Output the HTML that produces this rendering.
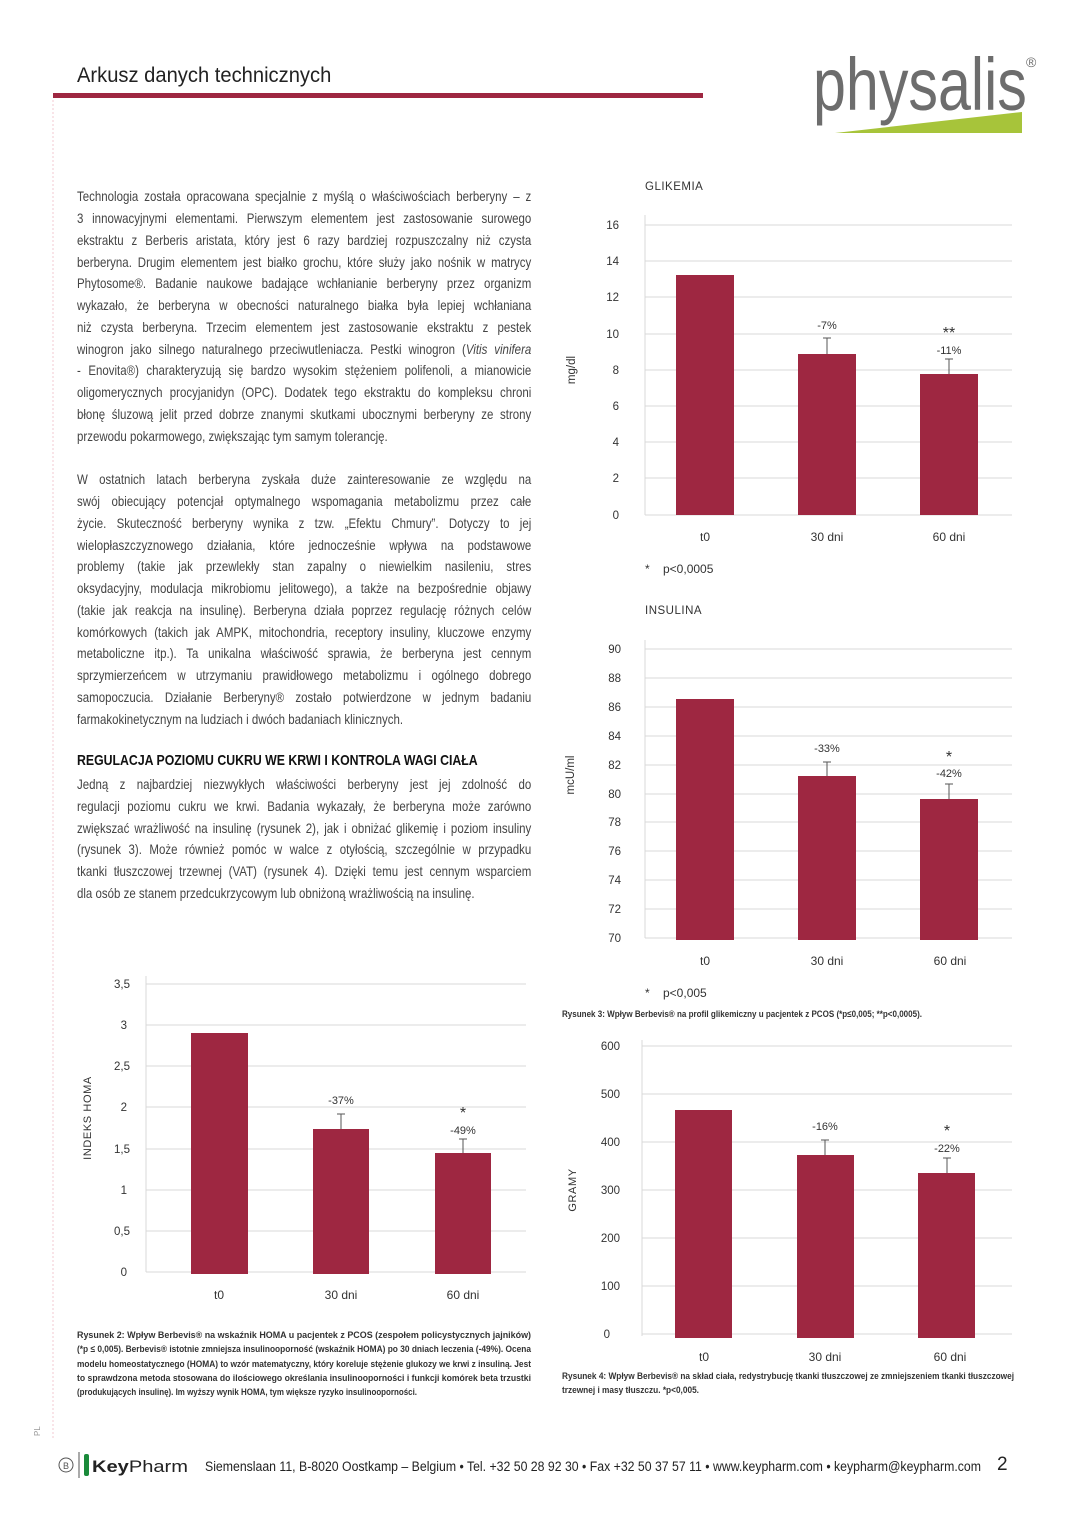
<!DOCTYPE html>
<html><head><meta charset="utf-8"><style>
body{margin:0;background:#fff;}
#p{position:relative;width:1080px;height:1527px;overflow:hidden;font-family:"Liberation Sans",sans-serif;}
.l{position:absolute;left:77px;width:554px;height:20px;font-size:14px;line-height:20px;color:#444;transform:scaleX(0.82);transform-origin:0 0;text-align:justify;text-align-last:justify;white-space:nowrap;overflow:visible}
.l.e{text-align-last:left}
svg{position:absolute;left:0;top:0}
</style></head><body><div id="p">
<svg width="1080" height="1527" font-family="Liberation Sans, sans-serif">
<line x1="53" y1="100" x2="53" y2="1440" stroke="#f3c9d2" stroke-dasharray="2,2"/>
<text x="77" y="82" font-size="21" fill="#222" transform="translate(77 0) scale(0.96 1) translate(-77 0)">Arkusz danych technicznych</text>
<rect x="53" y="93" width="650" height="5" fill="#9e2741"/>
<polygon points="835,133 1022,112 1022,133" fill="#a7c43a"/>
<text x="813" y="110" font-size="74" fill="#6d6d6d" transform="translate(813 0) scale(0.8 1) translate(-813 0)">physalis</text>
<text x="1026" y="67" font-size="14" fill="#6d6d6d">®</text>
<g font-size="11.5" fill="#333" letter-spacing="0.5">
<text x="645" y="190">GLIKEMIA</text>
<text x="645" y="614">INSULINA</text>
</g>
<!-- chart 1 -->
<g stroke="#d9d9d9"><line x1="645" y1="225" x2="1012" y2="225"/><line x1="645" y1="261" x2="1012" y2="261"/><line x1="645" y1="297" x2="1012" y2="297"/><line x1="645" y1="334" x2="1012" y2="334"/><line x1="645" y1="370" x2="1012" y2="370"/><line x1="645" y1="406" x2="1012" y2="406"/><line x1="645" y1="442" x2="1012" y2="442"/><line x1="645" y1="478" x2="1012" y2="478"/><line x1="645" y1="515" x2="1012" y2="515"/><line x1="645" y1="215" x2="645" y2="515"/></g>
<g font-size="11.5" fill="#333" text-anchor="end"><text x="619" y="229">16</text><text x="619" y="265">14</text><text x="619" y="301">12</text><text x="619" y="338">10</text><text x="619" y="374">8</text><text x="619" y="410">6</text><text x="619" y="446">4</text><text x="619" y="482">2</text><text x="619" y="519">0</text></g>
<g fill="#9e2741"><rect x="676" y="275" width="58" height="240"/><rect x="798" y="354" width="58" height="161"/><rect x="920" y="374" width="58" height="141"/></g>
<g stroke="#555"><line x1="827" y1="354" x2="827" y2="338"/><line x1="823" y1="338" x2="831" y2="338"/><line x1="949" y1="374" x2="949" y2="359"/><line x1="945" y1="359" x2="953" y2="359"/></g>
<g font-size="11" fill="#333" text-anchor="middle"><text x="827" y="329">-7%</text><text x="949" y="354">-11%</text><text x="949" y="338" font-size="16">**</text>
<text x="705" y="541" font-size="12">t0</text><text x="827" y="541" font-size="12">30 dni</text><text x="949" y="541" font-size="12">60 dni</text></g>
<text x="575" y="370" font-size="11.5" fill="#333" text-anchor="middle" transform="rotate(-90 575 370)">mg/dl</text>
<text x="645" y="573" font-size="12" fill="#333">*</text><text x="663" y="573" font-size="12" fill="#333">p&lt;0,0005</text>
<!-- chart 2 -->
<g stroke="#d9d9d9"><line x1="645" y1="649" x2="1012" y2="649"/><line x1="645" y1="678" x2="1012" y2="678"/><line x1="645" y1="707" x2="1012" y2="707"/><line x1="645" y1="736" x2="1012" y2="736"/><line x1="645" y1="765" x2="1012" y2="765"/><line x1="645" y1="794" x2="1012" y2="794"/><line x1="645" y1="822" x2="1012" y2="822"/><line x1="645" y1="851" x2="1012" y2="851"/><line x1="645" y1="880" x2="1012" y2="880"/><line x1="645" y1="909" x2="1012" y2="909"/><line x1="645" y1="938" x2="1012" y2="938"/><line x1="645" y1="640" x2="645" y2="938"/></g>
<g font-size="11.5" fill="#333" text-anchor="end"><text x="621" y="653">90</text><text x="621" y="682">88</text><text x="621" y="711">86</text><text x="621" y="740">84</text><text x="621" y="769">82</text><text x="621" y="798">80</text><text x="621" y="826">78</text><text x="621" y="855">76</text><text x="621" y="884">74</text><text x="621" y="913">72</text><text x="621" y="942">70</text></g>
<g fill="#9e2741"><rect x="676" y="699" width="58" height="241"/><rect x="798" y="776" width="58" height="164"/><rect x="920" y="799" width="58" height="141"/></g>
<g stroke="#555"><line x1="827" y1="776" x2="827" y2="762"/><line x1="823" y1="762" x2="831" y2="762"/><line x1="949" y1="799" x2="949" y2="784"/><line x1="945" y1="784" x2="953" y2="784"/></g>
<g font-size="11" fill="#333" text-anchor="middle"><text x="827" y="752">-33%</text><text x="949" y="777">-42%</text><text x="949" y="762" font-size="16">*</text>
<text x="705" y="965" font-size="12">t0</text><text x="827" y="965" font-size="12">30 dni</text><text x="950" y="965" font-size="12">60 dni</text></g>
<text x="574" y="775" font-size="11.5" fill="#333" text-anchor="middle" transform="rotate(-90 574 775)">mcU/ml</text>
<text x="645" y="997" font-size="12" fill="#333">*</text><text x="663" y="997" font-size="12" fill="#333">p&lt;0,005</text>
<text x="562" y="1017" font-size="9.5" font-weight="bold" fill="#333" textLength="360" lengthAdjust="spacingAndGlyphs">Rysunek 3: Wpływ Berbevis® na profil glikemiczny u pacjentek z PCOS (*p≤0,005; **p&lt;0,0005).</text>
<!-- chart 3 -->
<g stroke="#d9d9d9"><line x1="146" y1="984" x2="526" y2="984"/><line x1="146" y1="1025" x2="526" y2="1025"/><line x1="146" y1="1066" x2="526" y2="1066"/><line x1="146" y1="1107" x2="526" y2="1107"/><line x1="146" y1="1149" x2="526" y2="1149"/><line x1="146" y1="1190" x2="526" y2="1190"/><line x1="146" y1="1231" x2="526" y2="1231"/><line x1="146" y1="1272" x2="526" y2="1272"/><line x1="146" y1="976" x2="146" y2="1272"/></g>
<g font-size="11.5" fill="#333" text-anchor="end"><text x="130" y="988">3,5</text><text x="127" y="1029">3</text><text x="130" y="1070">2,5</text><text x="127" y="1111">2</text><text x="130" y="1153">1,5</text><text x="127" y="1194">1</text><text x="130" y="1235">0,5</text><text x="127" y="1276">0</text></g>
<g fill="#9e2741"><rect x="191" y="1033" width="57" height="241"/><rect x="313" y="1129" width="56" height="145"/><rect x="435" y="1153" width="56" height="121"/></g>
<g stroke="#555"><line x1="341" y1="1129" x2="341" y2="1114"/><line x1="337" y1="1114" x2="345" y2="1114"/><line x1="463" y1="1153" x2="463" y2="1139"/><line x1="459" y1="1139" x2="467" y2="1139"/></g>
<g font-size="11" fill="#333" text-anchor="middle"><text x="341" y="1104">-37%</text><text x="463" y="1134">-49%</text><text x="463" y="1118" font-size="16">*</text>
<text x="219" y="1299" font-size="12">t0</text><text x="341" y="1299" font-size="12">30 dni</text><text x="463" y="1299" font-size="12">60 dni</text></g>
<text x="91" y="1118" font-size="11" fill="#333" letter-spacing="0.6" text-anchor="middle" transform="rotate(-90 91 1118)">INDEKS HOMA</text>
<!-- chart 4 -->
<g stroke="#d9d9d9"><line x1="642" y1="1046" x2="1012" y2="1046"/><line x1="642" y1="1094" x2="1012" y2="1094"/><line x1="642" y1="1142" x2="1012" y2="1142"/><line x1="642" y1="1190" x2="1012" y2="1190"/><line x1="642" y1="1238" x2="1012" y2="1238"/><line x1="642" y1="1286" x2="1012" y2="1286"/><line x1="642" y1="1334" x2="1012" y2="1334"/><line x1="642" y1="1040" x2="642" y2="1336"/></g>
<g font-size="11.5" fill="#333" text-anchor="end"><text x="620" y="1050">600</text><text x="620" y="1098">500</text><text x="620" y="1146">400</text><text x="620" y="1194">300</text><text x="620" y="1242">200</text><text x="620" y="1290">100</text><text x="610" y="1338">0</text></g>
<g fill="#9e2741"><rect x="675" y="1110" width="57" height="228"/><rect x="797" y="1155" width="57" height="183"/><rect x="918" y="1173" width="57" height="165"/></g>
<g stroke="#555"><line x1="825" y1="1155" x2="825" y2="1140"/><line x1="821" y1="1140" x2="829" y2="1140"/><line x1="947" y1="1173" x2="947" y2="1158"/><line x1="943" y1="1158" x2="951" y2="1158"/></g>
<g font-size="11" fill="#333" text-anchor="middle"><text x="825" y="1130">-16%</text><text x="947" y="1152">-22%</text><text x="947" y="1136" font-size="16">*</text>
<text x="704" y="1361" font-size="12">t0</text><text x="825" y="1361" font-size="12">30 dni</text><text x="950" y="1361" font-size="12">60 dni</text></g>
<text x="576" y="1190" font-size="11" fill="#333" letter-spacing="0.6" text-anchor="middle" transform="rotate(-90 576 1190)">GRAMY</text>
<g font-size="9.5" font-weight="bold" fill="#333">
<text x="562" y="1379" textLength="452" lengthAdjust="spacingAndGlyphs">Rysunek 4: Wpływ Berbevis® na skład ciała, redystrybucję tkanki tłuszczowej ze zmniejszeniem tkanki tłuszczowej</text>
<text x="562" y="1393" textLength="137" lengthAdjust="spacingAndGlyphs">trzewnej i masy tłuszczu. *p&lt;0,005.</text>
</g>
<g font-size="9.5" font-weight="bold" fill="#333">
<text x="77" y="1338" textLength="454" lengthAdjust="spacingAndGlyphs">Rysunek 2: Wpływ Berbevis® na wskaźnik HOMA u pacjentek z PCOS (zespołem policystycznych jajników)</text>
<text x="77" y="1352" textLength="454" lengthAdjust="spacingAndGlyphs">(*p ≤ 0,005). Berbevis® istotnie zmniejsza insulinooporność (wskaźnik HOMA) po 30 dniach leczenia (-49%). Ocena</text>
<text x="77" y="1367" textLength="454" lengthAdjust="spacingAndGlyphs">modelu homeostatycznego (HOMA) to wzór matematyczny, który koreluje stężenie glukozy we krwi z insuliną. Jest</text>
<text x="77" y="1381" textLength="454" lengthAdjust="spacingAndGlyphs">to sprawdzona metoda stosowana do ilościowego określania insulinooporności i funkcji komórek beta trzustki</text>
<text x="77" y="1395" textLength="340" lengthAdjust="spacingAndGlyphs">(produkujących insulinę). Im wyższy wynik HOMA, tym większe ryzyko insulinooporności.</text>
</g>
<text x="40" y="1436" font-size="8" fill="#999" transform="rotate(-90 40 1436)">PL</text>
<circle cx="66" cy="1465" r="7" fill="none" stroke="#555"/><text x="66" y="1469" font-size="9" text-anchor="middle" fill="#555">B</text>
<line x1="79" y1="1452" x2="79" y2="1478" stroke="#555"/>
<rect x="84" y="1454" width="5" height="22" rx="2" fill="#1a8a3a"/>
<text x="92" y="1472" font-size="17" font-weight="bold" fill="#222" textLength="96" lengthAdjust="spacingAndGlyphs">Key<tspan font-weight="normal">Pharm</tspan></text>
<text x="205" y="1471" font-size="13.5" fill="#222" textLength="776" lengthAdjust="spacingAndGlyphs">Siemenslaan 11, B-8020 Oostkamp – Belgium • Tel. +32 50 28 92 30 • Fax +32 50 37 57 11 • www.keypharm.com • keypharm@keypharm.com</text>
<text x="997" y="1470" font-size="19" fill="#222">2</text>
</svg>

<div class="l" style="top:186px">Technologia została opracowana specjalnie z myślą o właściwościach berberyny – z</div>
<div class="l" style="top:208px">3 innowacyjnymi elementami. Pierwszym elementem jest zastosowanie surowego</div>
<div class="l" style="top:230px">ekstraktu z Berberis aristata, który jest 6 razy bardziej rozpuszczalny niż czysta</div>
<div class="l" style="top:252px">berberyna. Drugim elementem jest białko grochu, które służy jako nośnik w matrycy</div>
<div class="l" style="top:273px">Phytosome®. Badanie naukowe badające wchłanianie berberyny przez organizm</div>
<div class="l" style="top:295px">wykazało, że berberyna w obecności naturalnego białka była lepiej wchłaniana</div>
<div class="l" style="top:317px">niż czysta berberyna. Trzecim elementem jest zastosowanie ekstraktu z pestek</div>
<div class="l" style="top:339px">winogron jako silnego naturalnego przeciwutleniacza. Pestki winogron (<i>Vitis vinifera</i></div>
<div class="l" style="top:360px">- Enovita®) charakteryzują się bardzo wysokim stężeniem polifenoli, a mianowicie</div>
<div class="l" style="top:382px">oligomerycznych procyjanidyn (OPC). Dodatek tego ekstraktu do kompleksu chroni</div>
<div class="l" style="top:404px">błonę śluzową jelit przed dobrze znanymi skutkami ubocznymi berberyny ze strony</div>
<div class="l e" style="top:426px">przewodu pokarmowego, zwiększając tym samym tolerancję.</div>

<div class="l" style="top:469px">W ostatnich latach berberyna zyskała duże zainteresowanie ze względu na</div>
<div class="l" style="top:491px">swój obiecujący potencjał optymalnego wspomagania metabolizmu przez całe</div>
<div class="l" style="top:513px">życie. Skuteczność berberyny wynika z tzw. „Efektu Chmury”. Dotyczy to jej</div>
<div class="l" style="top:535px">wielopłaszczyznowego działania, które jednocześnie wpływa na podstawowe</div>
<div class="l" style="top:556px">problemy (takie jak przewlekły stan zapalny o niewielkim nasileniu, stres</div>
<div class="l" style="top:578px">oksydacyjny, modulacja mikrobiomu jelitowego), a także na bezpośrednie objawy</div>
<div class="l" style="top:600px">(takie jak reakcja na insulinę). Berberyna działa poprzez regulację różnych celów</div>
<div class="l" style="top:622px">komórkowych (takich jak AMPK, mitochondria, receptory insuliny, kluczowe enzymy</div>
<div class="l" style="top:643px">metaboliczne itp.). Ta unikalna właściwość sprawia, że berberyna jest cennym</div>
<div class="l" style="top:665px">sprzymierzeńcem w utrzymaniu prawidłowego metabolizmu i ogólnego dobrego</div>
<div class="l" style="top:687px">samopoczucia. Działanie Berberyny® zostało potwierdzone w jednym badaniu</div>
<div class="l e" style="top:709px">farmakokinetycznym na ludziach i dwóch badaniach klinicznych.</div>

<div class="l e" style="top:751px;font-weight:bold;color:#111;font-size:15px">REGULACJA POZIOMU CUKRU WE KRWI I KONTROLA WAGI CIAŁA</div>
<div class="l" style="top:774px">Jedną z najbardziej niezwykłych właściwości berberyny jest jej zdolność do</div>
<div class="l" style="top:796px">regulacji poziomu cukru we krwi. Badania wykazały, że berberyna może zarówno</div>
<div class="l" style="top:818px">zwiększać wrażliwość na insulinę (rysunek 2), jak i obniżać glikemię i poziom insuliny</div>
<div class="l" style="top:839px">(rysunek 3). Może również pomóc w walce z otyłością, szczególnie w przypadku</div>
<div class="l" style="top:861px">tkanki tłuszczowej trzewnej (VAT) (rysunek 4). Dzięki temu jest cennym wsparciem</div>
<div class="l e" style="top:883px">dla osób ze stanem przedcukrzycowym lub obniżoną wrażliwością na insulinę.</div>
</div></body></html>
